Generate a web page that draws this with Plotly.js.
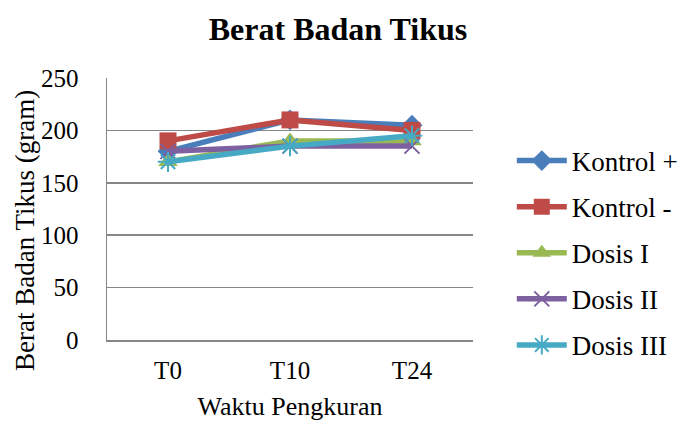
<!DOCTYPE html>
<html>
<head>
<meta charset="utf-8">
<script src="https://cdn.plot.ly/plotly-3.0.1.min.js"></script>
<style>html,body{margin:0;padding:0;background:#fff;}#chart{width:678px;height:421px;}</style>
</head>
<body>
<div id="chart"></div>
<script>
var categories = ["T0", "T10", "T24"];
var seriesNames = ["Kontrol +", "Kontrol -", "Dosis I", "Dosis II", "Dosis III"];
var kontrolPlus = [180, 210, 205];
var kontrolMinus = [190, 210, 200];
var dosisI = [170, 190, 190];
var dosisII = [180, 185, 185];
var dosisIII = [170, 185, 195];
var yTickValues = [0, 50, 100, 150, 200, 250];

var allValues = [kontrolPlus, kontrolMinus, dosisI, dosisII, dosisIII];
var colors = ["#4A7EBB", "#BE4B48", "#98B954", "#7D60A0", "#46AAC5"];
var symbols = ["diamond", "square", "triangle-up", "x-thin-open", "asterisk-open"];
var sizes = [16, 17, 17, 15, 17];
var FONT = "Liberation Serif";

var traces = allValues.map(function (vals, i) {
  var open = symbols[i].indexOf("open") >= 0;
  return {
    x: categories,
    y: vals,
    name: seriesNames[i],
    type: "scatter",
    mode: "lines+markers",
    legendgroup: "g" + i,
    line: {color: colors[i], width: 5.5},
    marker: {
      symbol: symbols[i],
      size: sizes[i],
      color: colors[i],
      line: {color: colors[i], width: open ? 2 : 0}
    }
  };
});

var layout = {
  width: 678,
  height: 421,
  margin: {l: 107, r: 205, t: 78, b: 81, autoexpand: false},
  paper_bgcolor: "#fff",
  plot_bgcolor: "#fff",
  font: {family: FONT, size: 25, color: "#000"},
  title: {
    text: "<b>Berat Badan Tikus</b>",
    font: {family: FONT, size: 32, color: "#000"},
    x: 338 / 678, xanchor: "center",
    y: 1 - 29 / 421, yanchor: "middle"
  },
  xaxis: {
    type: "category",
    range: [-0.5, 2.5],
    showline: true,
    linecolor: "#868686",
    linewidth: 1.5,
    showgrid: false,
    ticks: "",
    ticklabelstandoff: 7,
    tickfont: {family: FONT, size: 25},
    title: {text: "Waktu Pengkuran", standoff: 14, font: {family: FONT, size: 26}},
    zeroline: false,
    fixedrange: true
  },
  yaxis: {
    range: [0, 250],
    tickvals: yTickValues,
    showline: true,
    linecolor: "#868686",
    linewidth: 1.5,
    showgrid: true,
    gridcolor: "#868686",
    gridwidth: 1.5,
    zeroline: false,
    ticks: "",
    ticklabelstandoff: 22,
    tickfont: {family: FONT, size: 25},
    fixedrange: true
  },
  annotations: [{
    text: "Berat Badan Tikus (gram)",
    textangle: -90,
    xref: "paper", yref: "paper",
    x: (25 - 107) / 366, y: (340 - 231) / 262,
    xanchor: "center", yanchor: "middle",
    showarrow: false,
    font: {family: FONT, size: 27, color: "#000"}
  }],
  showlegend: true,
  legend: {
    x: 1.106, xanchor: "left",
    y: 0.332, yanchor: "middle",
    traceorder: "grouped",
    tracegroupgap: 8,
    itemwidth: 50,
    font: {family: FONT, size: 27, color: "#000"},
    bgcolor: "rgba(0,0,0,0)"
  }
};

Plotly.newPlot("chart", traces, layout, {displayModeBar: false, staticPlot: true});
</script>
</body>
</html>
